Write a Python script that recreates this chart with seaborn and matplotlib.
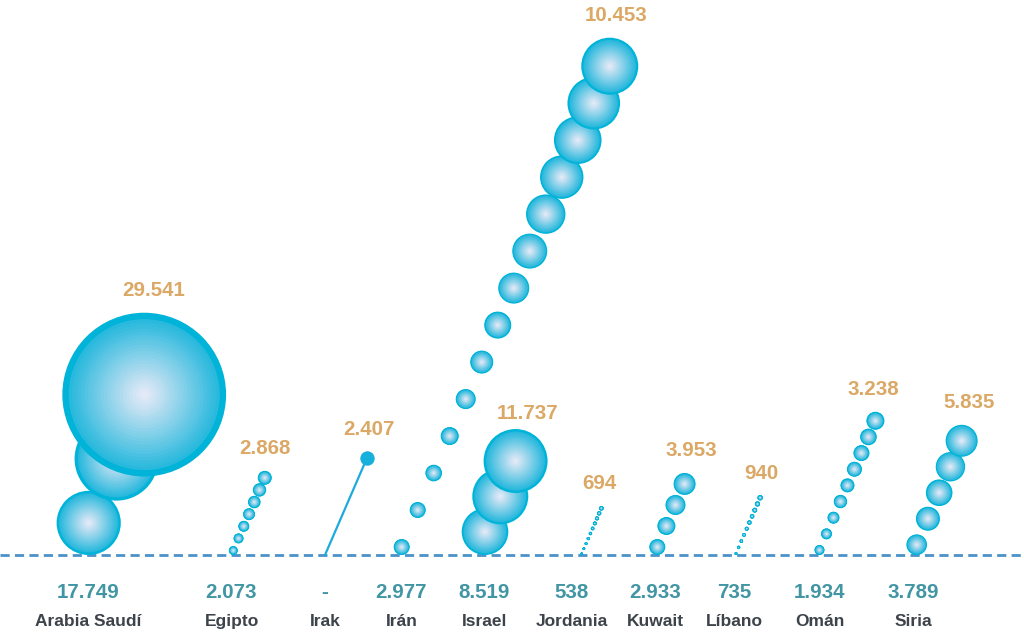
import numpy as np
import pandas as pd
import matplotlib
matplotlib.use("Agg")
import matplotlib.pyplot as plt
import seaborn as sns

# ---------------- data ----------------
countries = ["Arabia Saudí", "Egipto", "Irak", "Irán", "Israel",
             "Jordania", "Kuwait", "Líbano", "Omán", "Siria"]
start_values = [17749, 2073, None, 2977, 8519, 538, 2933, 735, 1934, 3789]
end_values = [29541, 2868, 2407, 10453, 11737, 694, 3953, 940, 3238, 5835]

# bubble magnitudes (thousands)
bubbles_arabia = [11.8, 15.4, 30.1]
bubbles_egipto = [1.65, 1.84, 2.02, 2.2, 2.3, 2.45, 2.57]
bubbles_irak = [2.65]
bubbles_iran = [2.94, 2.94, 3.05, 3.31, 3.68, 4.23, 4.96, 5.7, 6.43, 7.24,
                7.98, 8.75, 9.67, 10.48]
bubbles_israel = [8.57, 10.29, 11.76]
bubbles_jordania = [0.48, 0.52, 0.56, 0.6, 0.64, 0.68, 0.72, 0.76, 0.8, 0.85]
bubbles_kuwait = [2.94, 3.31, 3.68, 4.04]
bubbles_libano = [0.55, 0.6, 0.66, 0.7, 0.75, 0.8, 0.84, 0.9, 0.95, 1.0]
bubbles_oman = [1.84, 2.02, 2.2, 2.46, 2.57, 2.76, 2.94, 3.05, 3.31]
bubbles_siria = [3.79, 4.41, 4.89, 5.4, 5.88]
bubble_series = [bubbles_arabia, bubbles_egipto, bubbles_irak, bubbles_iran,
                 bubbles_israel, bubbles_jordania, bubbles_kuwait,
                 bubbles_libano, bubbles_oman, bubbles_siria]

# ---------------- layout / style ----------------
W, H = 1024, 635
BASE_Y = 555
x_pos = [88.5, 231.5, 325, 401.5, 484.5, 571.5, 655.5, 734.5, 819.5, 913]
chain_dx = [0.2, 1.8, 0, 0.2, 0.5, 10.2, 1.8, 1.5, 0, 3.7]
chain_step = [69.9, 13.2, 105.3, 40.3, 38.5, 5.5, 22.9, 6.75, 17.6, 28.3]
connector = [False, False, True, False, False, False, False, False, False, False]
label_dx = [9.5, 0.4, 2, 6, 12, -1.7, 6.7, 1.2, -1.8, 7.8]
label_gap = [22, 22, 22, 22, 16, 22, 22, 22, 22, 22]
ANGLE = np.deg2rad(23.4)
PX_PER_K = 2.72           # bubble radius in px per thousand
DPI = 100
VMAX = 31.0

ORANGE = "#dba865"
TEAL = "#4296a4"
NAME_C = "#3c434a"
LINE_C = "#4b92c8"
RIM = "#00b3d8"
INNER = "#22b7dc"
CENTER = "#e8eaf7"


def fmt(v):
    return "-" if v is None else f"{v:,}".replace(",", ".")


def mix(c1, c2, t):
    a = np.array(matplotlib.colors.to_rgb(c1))
    b = np.array(matplotlib.colors.to_rgb(c2))
    return matplotlib.colors.to_hex(a + (b - a) * t)


L = 26
fracs = np.linspace(1.0, 0.03, L)


def shade(f, r_px):
    rim = max(0.07, 1.1 / r_px)
    if f > 1 - rim:
        return RIM
    t = max(f - 0.5 / L, 0) / (1 - rim)
    return mix(CENTER, INNER, min(t, 1) ** 1.05)


sns.set_style("white")
plt.rcParams["font.family"] = ["Liberation Sans", "DejaVu Sans"]

fig = plt.figure(figsize=(W / DPI, H / DPI), dpi=DPI)
ax = fig.add_axes([0, 0, 1, 1])

ux, uy = np.sin(ANGLE), -np.cos(ANGLE)
rows, flat_rows, conn_rows, tops = [], [], [], []
for ci, vals in enumerate(bubble_series):
    x0 = x_pos[ci] + chain_dx[ci]
    step = chain_step[ci]
    if connector[ci]:
        sx, sy = x0, BASE_Y
        cx, cy = sx + step * ux, sy + step * uy
        conn_rows += [{"x": sx, "y": sy, "grp": countries[ci]},
                      {"x": cx, "y": cy, "grp": countries[ci]}]
        flat_rows.append({"x": cx, "y": cy, "area": vals[0] ** 2})
        tops.append((cx, cy - vals[0] * PX_PER_K))
        continue
    r0 = vals[0] * PX_PER_K
    bx, by = x0, BASE_Y - r0
    for i, v in enumerate(vals):
        cx, cy = bx + i * step * ux, by + i * step * uy
        r_px = v * PX_PER_K
        for f in fracs:
            rows.append({"x": cx, "y": cy, "area": (v * f) ** 2,
                         "shade": shade(f, r_px)})
    tops.append((cx, cy - v * PX_PER_K))

df = pd.DataFrame(rows)
pal = {c: c for c in df["shade"].unique()}
SMAX = (2 * PX_PER_K * VMAX * 72 / DPI) ** 2

# baseline
ax.axhline(BASE_Y, color=LINE_C, lw=2.0, dashes=(3.3, 1.9), zorder=1)

# Irak connector
cdf = pd.DataFrame(conn_rows)
sns.lineplot(data=cdf, x="x", y="y", units="grp", estimator=None, sort=False,
             color="#1ea9e0", lw=1.6, ax=ax, legend=False, zorder=2)
fdf = pd.DataFrame(flat_rows)
sns.scatterplot(data=fdf, x="x", y="y", size="area", size_norm=(0, VMAX ** 2),
                sizes=(0, SMAX), color="#17b0dd", linewidth=0, ax=ax,
                legend=False, zorder=3)

# gradient bubbles
sns.scatterplot(data=df, x="x", y="y", size="area", size_norm=(0, VMAX ** 2),
                sizes=(0, SMAX), hue="shade", palette=pal, linewidth=0,
                edgecolor="none", ax=ax, legend=False, zorder=3)

ax.set_xlim(0, W)
ax.set_ylim(H, 0)
ax.axis("off")

# labels
for ci, name in enumerate(countries):
    tx, ty = tops[ci]
    ax.text(tx + label_dx[ci], ty - label_gap[ci], fmt(end_values[ci]),
            ha="center", va="center", color=ORANGE, fontsize=14.8,
            fontweight="bold", zorder=5)
    ax.text(x_pos[ci], 592.5, fmt(start_values[ci]), ha="center",
            va="center", color=TEAL, fontsize=14.8, fontweight="bold")
    ax.text(x_pos[ci], 621.5, name, ha="center", va="center",
            color=NAME_C, fontsize=12.5, fontweight="bold")

fig.savefig("out.png", dpi=DPI)
